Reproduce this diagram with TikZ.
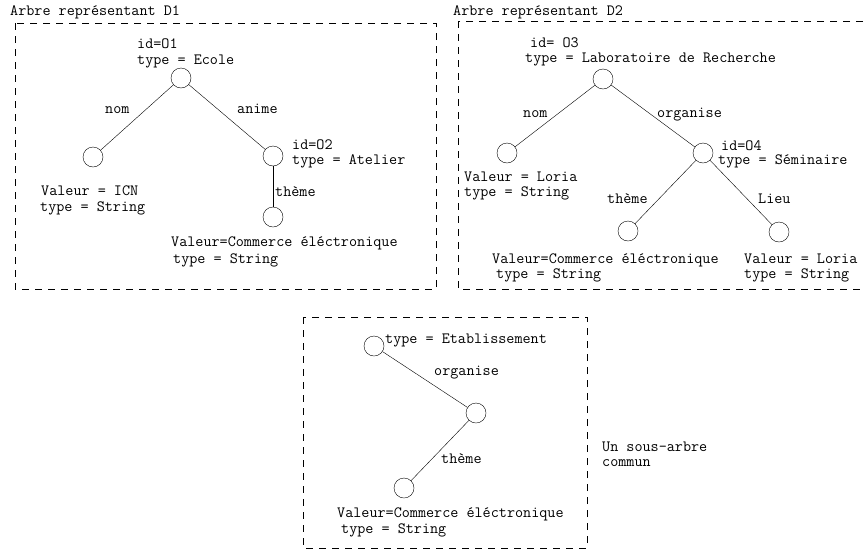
\documentclass[tikz,border=0pt]{standalone}
\usepackage{fontspec}
\usetikzlibrary{positioning}

\begin{document}
\begin{tikzpicture}[x=1pt, y=-1pt, thin,
  noeud/.style={draw, circle, minimum size=20pt, inner sep=0pt},
  txt/.style={anchor=west, inner sep=0pt, text height=9.4pt, text depth=0pt,
    font=\ttfamily\fontsize{15.7}{17}\selectfont},
  cadre/.style={dash pattern=on 7pt off 6pt}]

\clip (0,0) rectangle (864,552);

% Arbre D1
\node[txt] (T1) at (10,11) {Arbre représentant D1};
\draw[cadre] (15,23) rectangle (436,289);

\node[noeud] (O1) at (181,78) {};
\node[noeud] (N1) at (93,157) {};
\node[noeud] (O2) at (273,156) {};
\node[noeud] (V1) at (273,217) {};

\node[txt] (O1a) at (137,44) {id=O1};
\node[txt] (O1b) at (137,60) {type = Ecole};
\node[txt] (O2a) at (292,145) {id=O2};
\node[txt] (O2b) at (292,160) {type = Atelier};
\node[txt] (N1a) at (41,191) {Valeur = ICN};
\node[txt] (N1b) at (40,207) {type = String};
\node[txt] (V1a) at (171,242) {Valeur=Commerce éléctronique};
\node[txt] (V1b) at (173,259) {type = String};

\draw (O1) -- (N1);
\draw (O1) -- (O2);
\draw (O2) -- (V1);

\node[txt] (L1) at (105,109) {nom};
\node[txt] (L2) at (237,109) {anime};
\node[txt] (L3) at (275,192) {thème};

% Arbre D2
\node[txt] (T2) at (453,11) {Arbre représentant D2};
\draw[cadre] (458,21) rectangle (880,289);

\node[noeud] (O3) at (603,79) {};
\node[noeud] (N2) at (507,153) {};
\node[noeud] (O4) at (703,153) {};
\node[noeud] (V2) at (628,231) {};
\node[noeud] (P2) at (779,232) {};

\node[txt] (O3a) at (530,43) {id= O3};
\node[txt] (O3b) at (525,58) {type = Laboratoire de Recherche};
\node[txt] (O4a) at (721,146) {id=O4};
\node[txt] (O4b) at (718,160) {type = Séminaire};
\node[txt] (N2a) at (464,177) {Valeur = Loria};
\node[txt] (N2b) at (464,192) {type = String};
\node[txt] (V2a) at (492,259) {Valeur=Commerce éléctronique};
\node[txt] (V2b) at (496,274) {type = String};
\node[txt] (P2a) at (744,259) {Valeur = Loria};
\node[txt] (P2b) at (744,274) {type = String};

\draw (O3) -- (N2);
\draw (O3) -- (O4);
\draw (O4) -- (V2);
\draw (O4) -- (P2);

\node[txt] (L4) at (523,113) {nom};
\node[txt] (L5) at (657,113) {organise};
\node[txt] (L6) at (607,199) {thème};
\node[txt] (L7) at (758,199) {Lieu};

% Sous-arbre commun
\draw[cadre] (303,317) rectangle (587,548);

\node[noeud] (E1) at (374,346) {};
\node[noeud] (S1) at (476,413) {};
\node[noeud] (V3) at (404,488) {};

\node[txt] (E1a) at (385,339) {type = Etablissement};
\node[txt] (V3a) at (337,513) {Valeur=Commerce éléctronique};
\node[txt] (V3b) at (341,529) {type = String};

\draw (E1) -- (S1);
\draw (S1) -- (V3);

\node[txt] (L8) at (434,371) {organise};
\node[txt] (L9) at (441,459) {thème};

\node[txt] (C1) at (602,447) {Un sous-arbre};
\node[txt] (C2) at (602,462) {commun};

\end{tikzpicture}
\end{document}
